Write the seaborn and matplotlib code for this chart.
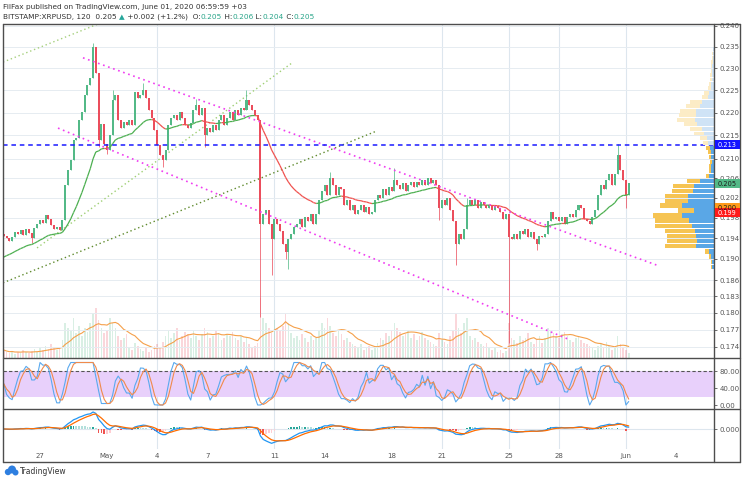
import numpy as np
import pandas as pd
import matplotlib
matplotlib.use("Agg")
import matplotlib.pyplot as plt
import seaborn as sns
from matplotlib.patches import Rectangle, Ellipse
from matplotlib.lines import Line2D
from matplotlib.collections import LineCollection
from matplotlib.ticker import NullLocator

W, H = 745, 484
sns.set_theme(style="white")
plt.rcParams["font.family"] = ["DejaVu Sans"]

# ------------------------------------------------------------------ data
START = "2020-04-24 20:00"          # first 4h candle (UTC)
ORIGIN = "2020-05-01 00:00"         # x axis origin (days)
FIRST_OPEN = 0.1948

CLOSE = [
    0.1945, 0.1940, 0.1935, 0.1942, 0.1952, 0.1948, 0.1955, 0.1947, 0.1958, 0.1950,
    0.1940, 0.1960, 0.1968, 0.1975, 0.1970, 0.1985, 0.1978, 0.1965, 0.1958, 0.1962,
    0.1955, 0.1975, 0.2047, 0.2078, 0.2098, 0.2141, 0.2145, 0.2184, 0.2202, 0.2239,
    0.2262, 0.2278, 0.2349, 0.2290, 0.2141, 0.2175, 0.2132, 0.2120, 0.2151, 0.2228,
    0.2239, 0.2184, 0.2166, 0.2180, 0.2173, 0.2184, 0.2173, 0.2246, 0.2233, 0.2239,
    0.2250, 0.2233, 0.2206, 0.2188, 0.2162, 0.2130, 0.2109, 0.2098, 0.2119, 0.2173,
    0.2188, 0.2195, 0.2184, 0.2202, 0.2188, 0.2173, 0.2166, 0.2177, 0.2206, 0.2217,
    0.2195, 0.2210, 0.2151, 0.2166, 0.2158, 0.2173, 0.2162, 0.2184, 0.2195, 0.2173,
    0.2188, 0.2202, 0.2184, 0.2206, 0.2195, 0.2210, 0.2206, 0.2228, 0.2217, 0.2206,
    0.2195, 0.2184, 0.1967, 0.1987, 0.1996, 0.1967, 0.1938, 0.1977, 0.1967, 0.1953,
    0.1928, 0.1914, 0.1938, 0.1948, 0.1961, 0.1967, 0.1977, 0.1961, 0.1981, 0.1973,
    0.1987, 0.1967, 0.1987, 0.2016, 0.2033, 0.2047, 0.2026, 0.2061, 0.2047, 0.2026,
    0.2041, 0.2037, 0.2006, 0.2016, 0.1996, 0.2006, 0.1987, 0.1996, 0.2006, 0.1992,
    0.2002, 0.1987, 0.1992, 0.2016, 0.2026, 0.2020, 0.2037, 0.2026, 0.2041, 0.2033,
    0.2057, 0.2047, 0.2037, 0.2051, 0.2033, 0.2047, 0.2053, 0.2041, 0.2053, 0.2047,
    0.2057, 0.2047, 0.2061, 0.2051, 0.2057, 0.2047, 0.2000, 0.2016, 0.2006, 0.2020,
    0.1996, 0.1973, 0.1928, 0.1948, 0.1938, 0.1957, 0.2006, 0.2016, 0.2006, 0.2016,
    0.2000, 0.2012, 0.2006, 0.2000, 0.2006, 0.1996, 0.2004, 0.2000, 0.1992, 0.1977,
    0.1987, 0.1942, 0.1938, 0.1948, 0.1938, 0.1953, 0.1948, 0.1957, 0.1942, 0.1951,
    0.1938, 0.1928, 0.1944, 0.1942, 0.1948, 0.1973, 0.1992, 0.1977, 0.1981, 0.1973,
    0.1981, 0.1967, 0.1981, 0.1987, 0.1981, 0.1996, 0.2006, 0.2000, 0.1977, 0.1973,
    0.1967, 0.1981, 0.1996, 0.2026, 0.2047, 0.2037, 0.2057, 0.2068, 0.2047, 0.2068,
    0.2109, 0.2078, 0.2057, 0.2026, 0.2051,
]
HIGH_WICKS = {32: 0.2358, 39: 0.2250, 50: 0.2265, 69: 0.2230, 87: 0.2250,
              117: 0.2072, 140: 0.2082, 166: 0.2020, 220: 0.2132}
LOW_WICKS = {10: 0.1930, 34: 0.2126, 37: 0.2110, 57: 0.2084, 72: 0.2126,
             92: 0.1792, 96: 0.1870, 101: 0.1900, 102: 0.1880, 156: 0.1975,
             162: 0.1888, 181: 0.1747, 191: 0.1918, 223: 0.2000}
VOLUME = [
    8, 6, 5, 7, 4, 6, 5, 8, 6,
    5, 7, 9, 6, 10, 8,
    12, 9, 14, 10, 8, 11,
    18, 35, 30, 28, 40, 25, 32, 22, 30, 26, 35,
    45, 50, 38, 30, 25,
    28, 40, 35, 30, 22, 18, 20, 24,
    10, 8, 15, 12, 9, 7, 10, 6, 8, 12, 14, 10,
    16, 22, 28, 20, 25, 30, 18, 22, 26, 24, 20, 28, 22, 18,
    24, 30, 26, 20, 22, 28, 25, 18, 20, 24, 22, 26, 20, 18, 22, 16, 20,
    14, 10, 12, 15,
    60,
    40, 35, 30, 25, 38, 30, 28, 32, 45, 35,
    25, 20, 22, 18, 24, 20, 16, 22, 18, 20,
    28, 35, 30, 40, 32, 25, 22, 28, 24,
    18, 20, 16, 14, 12, 10, 14, 8, 10, 12, 8, 10,
    15, 20, 18, 25, 22, 28, 35, 30, 26, 22, 24, 28,
    20, 24, 18, 22, 26, 20, 18, 16, 14, 12,
    25, 18, 16, 14, 22, 28, 45, 30, 25, 35,
    40, 22, 18, 20, 16, 14, 12, 15, 10, 8, 10, 6, 8, 5, 7,
    35,
    20, 18, 15, 22, 18, 20, 25, 16, 14, 18, 22, 15, 20,
    30, 28, 25, 22, 20, 24, 26, 22, 18, 16, 20, 22, 18, 15, 14, 12, 10, 8,
    12, 14, 10, 16, 12, 8, 10, 22, 14, 10, 8, 5,
]
assert len(VOLUME) == len(CLOSE)
EMA_SEED, EMA_SPAN = 0.1900, 25

# visible volume profile: rows of 0.001 starting at 0.188
VP_START, VP_STEP = 0.188, 0.001
VP_UP = [2, 2, 3, 5, 18, 17, 18, 19, 22, 25, 32, 20, 32, 26, 26, 21, 20, 14, 5, 3, 3, 2, 3, 3, 4,
         6, 7, 10, 12, 17, 19, 18, 18, 14, 12, 6, 5, 3, 3, 2, 2, 2, 2, 1, 1, 1, 1]
VP_DOWN = [1, 1, 2, 4, 31, 30, 29, 30, 37, 34, 29, 16, 22, 23, 23, 21, 21, 13, 3, 2, 2, 2, 2, 3, 4,
           5, 7, 10, 12, 13, 18, 17, 16, 14, 12, 6, 5, 3, 2, 2, 2, 1, 1, 2, 1, 1, 0]
VALUE_AREA_TOP = 0.213

TICK_PRICES = [0.240, 0.235, 0.230, 0.225, 0.220, 0.215, 0.210, 0.206, 0.202, 0.198,
               0.194, 0.190, 0.186, 0.183, 0.180, 0.177, 0.174]
DATE_TICKS = ["2020-04-27", "2020-05-01", "2020-05-04", "2020-05-07", "2020-05-11",
              "2020-05-14", "2020-05-18", "2020-05-21", "2020-05-25", "2020-05-28",
              "2020-06-01", "2020-06-04"]
DATE_LABELS = ["27", "May", "4", "7", "11", "14", "18", "21", "25", "28", "Jun", "4"]
GRID_DATES = ["2020-05-04", "2020-05-11", "2020-05-21", "2020-05-25", "2020-05-28", "2020-06-01"]

HLINE_PRICE = 0.213
LABEL_PRICES = [0.213, 0.205, 0.200, 0.199]
LABEL_TEXTS = ["0.213", "0.205", "0.200", "0.199"]

# trend lines: (start date, start price, end date, end price)
MAGENTA_LINES = [("2020-04-29 13:35", 0.2324, "2020-06-02 20:40", 0.1888),
                 ("2020-04-28 01:45", 0.2166, "2020-05-28 15:50", 0.1752)]
GREEN_LINES = [("2020-04-24 18:54", 0.2314, "2020-04-30 09:40", 0.2403, "#a5cf7c"),
               ("2020-04-26 19:40", 0.1921, "2020-05-12 01:10", 0.2312, "#9fcf74"),
               ("2020-04-24 18:54", 0.1855, "2020-05-17 03:10", 0.2160, "#5f8a2d")]

# ------------------------------------------------------------------ helpers
origin = pd.Timestamp(ORIGIN)
def days(s):
    return (pd.Timestamp(s) - origin) / pd.Timedelta(days=1)

times = pd.date_range(START, periods=len(CLOSE), freq="4h")
t = ((times - origin) / pd.Timedelta(days=1)).to_numpy()
step = 4 / 24
close = np.array(CLOSE)
opens = np.r_[FIRST_OPEN, close[:-1]]
highs = np.maximum(opens, close)
lows = np.minimum(opens, close)
for i, v in HIGH_WICKS.items():
    highs[i] = v
for i, v in LOW_WICKS.items():
    lows[i] = v
UPC, DNC = "#53b987", "#eb4d5c"
up = close >= opens
ccol = np.where(up, UPC, DNC)

XMIN, XMAX = -6.2127, 36.261
YMIN, YMAX = 0.17205, 0.24040

fig = plt.figure(figsize=(W / 100, H / 100), dpi=100)
fig.patch.set_facecolor("white")

def rect(x0, y0, x1, y1):
    return [x0 / W, 1 - y1 / H, (x1 - x0) / W, (y1 - y0) / H]

ax_vol = fig.add_axes(rect(3, 24, 714, 358))
ax = ax_vol.twinx()
ax_st = fig.add_axes(rect(3, 358, 714, 409), sharex=ax_vol)
ax_md = fig.add_axes(rect(3, 409, 714, 449), sharex=ax_vol)
for a in (ax_vol, ax, ax_st, ax_md):
    for s in a.spines.values():
        s.set_visible(False)
    a.set_xlabel("")
    a.set_ylabel("")

# grid
for gd in GRID_DATES:
    for a in (ax_vol, ax_st, ax_md):
        a.axvline(days(gd), color="#dde6ee", lw=0.8, zorder=0)
for p in TICK_PRICES:
    ax.axhline(p, color="#e6ecf1", lw=0.7, zorder=0)

# volume
ax_vol.bar(t, VOLUME, width=step * 0.6, color=ccol, alpha=0.22, linewidth=0)
vol_ma = pd.Series(VOLUME, dtype=float).rolling(10, min_periods=1).mean().to_numpy()
sns.lineplot(x=t, y=vol_ma, ax=ax_vol, color="#f5a04a", lw=0.8)
ax_vol.set_ylim(0, 334)
ax_vol.set_yticks([])
ax_vol.tick_params(left=False, labelleft=False, bottom=False, labelbottom=False)

# price
ax.set_yscale("log")
ax.vlines(t, lows, highs, colors=ccol, lw=0.7, alpha=0.75, zorder=3)
body_bottom = np.minimum(opens, close)
body_h = np.maximum(np.abs(close - opens), 0.00012)
ax.bar(t, body_h, bottom=body_bottom, width=step * 0.72, color=ccol, linewidth=0, zorder=4)

# coloured moving average
alpha = 2 / (EMA_SPAN + 1)
ema = np.empty_like(close)
prev = EMA_SEED
for i, c in enumerate(close):
    prev = prev + alpha * (c - prev)
    ema[i] = prev
segs = [[(t[i], ema[i]), (t[i + 1], ema[i + 1])] for i in range(len(t) - 1)]
segcol = ["#4caf50" if close[i + 1] >= ema[i + 1] else "#f0524f" for i in range(len(t) - 1)]
ax.add_collection(LineCollection(segs, colors=segcol, linewidths=0.9, zorder=5))

# trend lines
for d0, p0, d1, p1 in MAGENTA_LINES:
    ax.plot([days(d0), days(d1)], [p0, p1], color="#f03cf0", lw=1.2,
            ls=(0, (1, 2.2)), zorder=6)
for d0, p0, d1, p1, col in GREEN_LINES:
    ax.plot([days(d0), days(d1)], [p0, p1], color=col, lw=1.0,
            ls=(0, (1, 2)), zorder=2)
ax.axhline(HLINE_PRICE, color="#1a1aff", lw=1.1, ls=(0, (3, 2.5)), zorder=6)

ax.set_ylim(YMIN, YMAX)
ax.set_xlim(XMIN, XMAX)
ax.set_yticks(TICK_PRICES)
ax.set_yticklabels([f"{p:.3f}" for p in TICK_PRICES])
ax.yaxis.set_minor_locator(NullLocator())
ax.tick_params(axis="y", which="both", right=True, labelright=True, left=False,
               length=2.5, width=0.6, pad=1.5, labelsize=5, colors="#555555")

# volume profile
ax_vp = ax.twiny()
for s in ax_vp.spines.values():
    s.set_visible(False)
ax_vp.set_xlim(711, 0)
ax_vp.tick_params(top=False, labeltop=False, bottom=False, labelbottom=False)
ax_vp.patch.set_visible(False)
vp_low = VP_START + VP_STEP * np.arange(len(VP_UP))
strong = vp_low < VALUE_AREA_TOP - 1e-9
blue = np.where(strong, "#5aa7e6", "#cfe3f6")
yell = np.where(strong, "#f6c453", "#fcecc6")
ax_vp.barh(vp_low, VP_UP, height=VP_STEP * 0.85, left=0, align="edge",
           color=blue, linewidth=0, zorder=3)
ax_vp.barh(vp_low, VP_DOWN, height=VP_STEP * 0.85, left=VP_UP, align="edge",
           color=yell, linewidth=0, zorder=3)
ax_vp.set_ylim(YMIN, YMAX)

# stochastic RSI
s = pd.Series(close)
delta = s.diff()
gain = delta.clip(lower=0).ewm(alpha=1 / 7, adjust=False).mean()
loss = (-delta.clip(upper=0)).ewm(alpha=1 / 7, adjust=False).mean()
rsi = 100 - 100 / (1 + gain / loss.replace(0, np.nan))
rsi = rsi.fillna(50)
lo_r = rsi.rolling(7, min_periods=2).min()
hi_r = rsi.rolling(7, min_periods=2).max()
st = ((rsi - lo_r) / (hi_r - lo_r).replace(0, np.nan) * 100).fillna(50)
k = st.rolling(3, min_periods=1).mean()
d = k.rolling(3, min_periods=1).mean()
ax_st.axhspan(20, 80, color="#e8d0fb", lw=0, zorder=0)
ax_st.axhline(80, color="#555555", lw=0.8, ls=(0, (3, 2)), zorder=1)
sns.lineplot(x=t, y=k.to_numpy(), ax=ax_st, color="#5aa9ee", lw=0.8)
sns.lineplot(x=t, y=d.to_numpy(), ax=ax_st, color="#f08a4b", lw=0.8)
ax_st.set_ylim(-9.4, 110.6)
ax_st.yaxis.tick_right()
ax_st.set_yticks([80, 40, 0])
ax_st.set_yticklabels(["80.00", "40.00", "0.00"])
ax_st.tick_params(axis="y", length=2.5, width=0.6, pad=1.5, labelsize=5, colors="#555555")
ax_st.tick_params(axis="x", bottom=False, labelbottom=False)
ax_st.set_xlabel(""); ax_st.set_ylabel("")

# MACD
fast = s.ewm(span=6, adjust=False).mean()
slow = s.ewm(span=13, adjust=False).mean()
macd = (fast - slow).to_numpy()
sig = pd.Series(macd).ewm(span=5, adjust=False).mean().to_numpy()
hist = macd - sig
hcol = []
for i, hv in enumerate(hist):
    prevh = hist[i - 1] if i else 0
    if hv >= 0:
        hcol.append("#26a69a" if hv >= prevh else "#b2dfdb")
    else:
        hcol.append("#ef5350" if hv < prevh else "#ffcdd2")
ax_md.axhline(0, color="#dde6ee", lw=0.8, zorder=0)
ax_md.bar(t, hist, width=step * 0.6, color=hcol, linewidth=0, zorder=2)
sns.lineplot(x=t, y=macd, ax=ax_md, color="#2196f3", lw=0.9)
sns.lineplot(x=t, y=sig, ax=ax_md, color="#ff6d00", lw=0.9)
lim = np.nanmax(np.abs(macd)) * 20 / 17
ax_md.set_ylim(-lim, lim)
ax_md.yaxis.tick_right()
ax_md.set_yticks([0])
ax_md.set_yticklabels(["0.000"])
ax_md.tick_params(axis="y", length=2.5, width=0.6, pad=1.5, labelsize=5, colors="#555555")
ax_md.set_xticks([days(x) for x in DATE_TICKS])
ax_md.set_xticklabels(DATE_LABELS)
ax_md.tick_params(axis="x", length=0, pad=3, labelsize=5, colors="#555555")
ax_md.set_xlabel(""); ax_md.set_ylabel("")
ax_md.set_xlim(XMIN, XMAX)

# frame
FR = "#4d4d4d"
def fline(x0, y0, x1, y1, lw=1.0):
    fig.add_artist(Line2D([x0 / W, x1 / W], [1 - y0 / H, 1 - y1 / H],
                          color=FR, lw=lw, transform=fig.transFigure))
fline(3, 24, 740, 24); fline(3, 462, 740, 462)
fline(3, 24, 3, 462); fline(740, 24, 740, 462)
fline(714, 24, 714, 462)
fline(3, 358, 740, 358); fline(3, 409, 740, 409)

# price labels on the axis
LABEL_STYLE = [("#1414ff", "white"), ("#53b987", "#1d1d1d"),
               ("#ff9a1a", "#1d1d1d"), ("#ff1a1a", "white")]
for p, txt, (bg, fg) in zip(LABEL_PRICES, LABEL_TEXTS, LABEL_STYLE):
    yb = ax.transData.transform((0, p))[1]
    fig.add_artist(Rectangle((714.5 / W, (yb - 4.5) / H), 25.5 / W, 9 / H,
                             transform=fig.transFigure, fc=bg, ec="none", zorder=10))
    fig.text(727 / W, (yb - 0.6) / H, txt, ha="center", va="center", fontsize=4.8,
             color=fg, zorder=11)

# header
fig.text(3 / W, 1 - 7 / H, "FilFax published on TradingView.com, June 01, 2020 06:59:59 +03",
         fontsize=5.3, color="#333333", va="center", ha="left")
renderer = fig.canvas.get_renderer()
TEAL = "#2aa58a"
parts = [("BITSTAMP:XRPUSD, 120  0.205 ", "#333333"), ("\u25b2", "#26a69a"),
         (" +0.002 (+1.2%)  O:", "#333333"), ("0.205", TEAL), (" H:", "#333333"),
         ("0.206", TEAL), (" L:", "#333333"), ("0.204", TEAL), (" C:", "#333333"),
         ("0.205", TEAL)]
xcur = 3.0
for txt, col in parts:
    tx = fig.text(xcur / W, 1 - 17 / H, txt, fontsize=5.3, color=col, va="center", ha="left")
    xcur += tx.get_window_extent(renderer=renderer).width

# footer logo
for (cx, cy, r) in [(8, 472, 3.2), (12, 469.5, 4.0), (15.5, 472.5, 3.0)]:
    fig.add_artist(Ellipse((cx / W, 1 - cy / H), 2 * r / W, 2 * r / H,
                           transform=fig.transFigure, fc="#2e7fe0", ec="none"))
fig.text(20 / W, 1 - 471 / H, "TradingView", fontsize=5.5, color="#333333",
         va="center", ha="left")

fig.savefig("out.png", dpi=100, facecolor="white")
